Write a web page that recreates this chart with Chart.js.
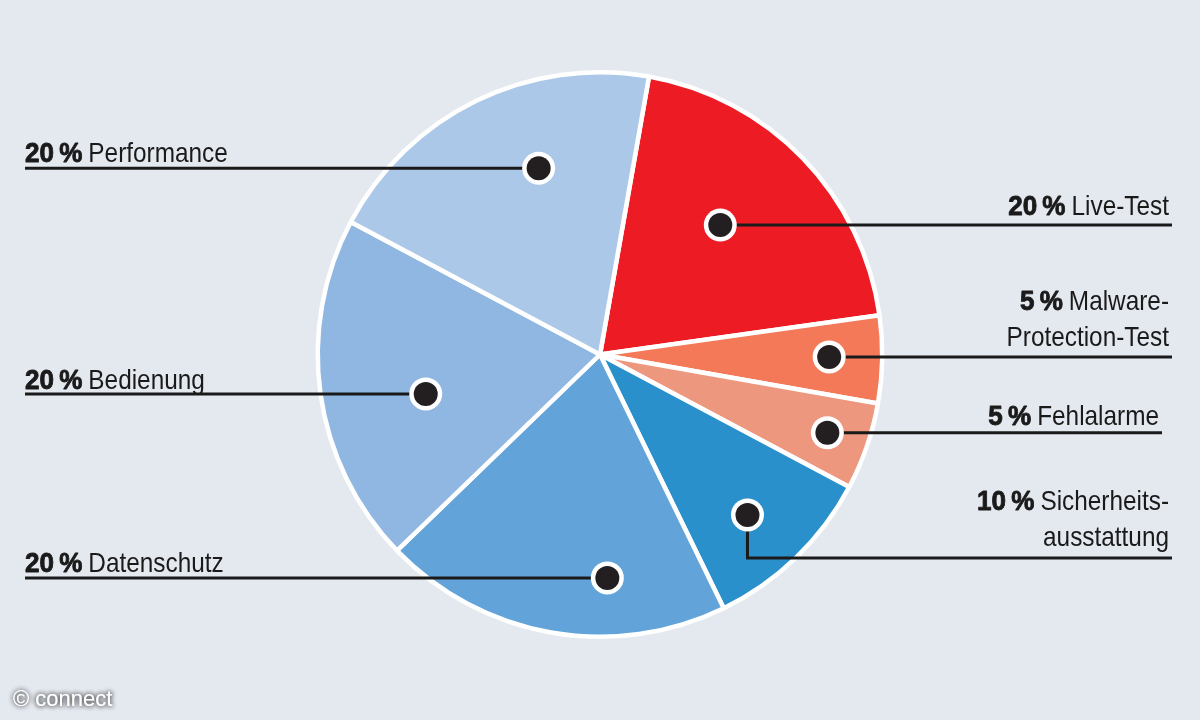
<!DOCTYPE html>
<html>
<head>
<meta charset="utf-8">
<script src="https://cdn.jsdelivr.net/npm/chart.js@4.4.1/dist/chart.umd.min.js"></script>
<style>
  html, body { margin: 0; padding: 0; background: #e4e9f0; }
  #wrap { width: 1200px; height: 720px; position: relative; }
</style>
</head>
<body>
<div id="wrap"><canvas id="c" width="1200" height="720"></canvas></div>
<script>
// Weighting of the test categories (percent), clockwise from the red slice
const categories = ['Live-Test', 'Malware-Protection-Test', 'Fehlalarme', 'Sicherheitsausstattung', 'Datenschutz', 'Bedienung', 'Performance'];
const shares = [20, 5, 5, 10, 20, 20, 20];
// Callout text as it is broken over lines
const labelLines = [
  ['Live-Test'],
  ['Malware-', 'Protection-Test'],
  ['Fehlalarme'],
  ['Sicherheits-', 'ausstattung'],
  ['Datenschutz'],
  ['Bedienung'],
  ['Performance']
];
const sliceColors = ['#ed1c24', '#f47959', '#ee977f', '#2a90cc', '#62a3d9', '#8fb7e1', '#abc8e8'];

// Callout geometry: where the marker sits inside its slice (t = share of the slice angle,
// rf = share of the radius), which side the label is on and how the leader line runs
const callouts = [
  { side: 'right', t: 0.457, rf: 0.626, gap: 10, endX: 1172 },
  { side: 'right', t: 0.478, rf: 0.812, gap: 11, endX: 1172 },
  { side: 'right', t: 0.500, rf: 0.852, gap: 8,  endX: 1162 },
  { side: 'right', t: 0.539, rf: 0.772, gap: 12, endX: 1172, dropTo: 558 },
  { side: 'left',  t: 0.335, rf: 0.792, gap: 6,  endX: 25 },
  { side: 'left',  t: 0.434, rf: 0.633, gap: 5,  endX: 25 },
  { side: 'left',  t: 0.608, rf: 0.695, gap: 6,  endX: 25 }
];

const FONT_FAMILY = '"Liberation Sans", Arial, Helvetica, sans-serif';
const BOLD_FONT = 'bold 28px ' + FONT_FAMILY;
const REG_FONT = '28px ' + FONT_FAMILY;
const BOLD_SX = 0.93;   // condensed look: horizontal squeeze of the bold figures
const REG_SX = 0.87;    // horizontal squeeze of the regular text
const TEXT_COLOR = '#1b1a1a';
const LINE_HEIGHT = 36;

function textWidth(ctx, text, font, sx) {
  ctx.font = font;
  return ctx.measureText(text).width * sx;
}

// draws text left-anchored at x, squeezed horizontally by sx; heavy adds a thin outline
function drawSqueezed(ctx, text, x, y, font, sx, heavy) {
  ctx.save();
  ctx.font = font;
  ctx.textAlign = 'left';
  ctx.translate(x, y);
  ctx.scale(sx, 1);
  ctx.fillText(text, 0, 0);
  if (heavy) {
    ctx.strokeStyle = ctx.fillStyle;
    ctx.lineWidth = 0.9;
    ctx.lineJoin = 'round';
    ctx.strokeText(text, 0, 0);
  }
  ctx.restore();
}

const calloutPlugin = {
  id: 'callouts',
  afterDatasetsDraw(chart) {
    const ctx = chart.ctx;
    const meta = chart.getDatasetMeta(0);
    ctx.save();
    meta.data.forEach((arc, i) => {
      const p = arc.getProps(['x', 'y', 'startAngle', 'endAngle', 'outerRadius'], true);
      const c = callouts[i];
      const a = p.startAngle + c.t * (p.endAngle - p.startAngle);
      const px = p.x + Math.cos(a) * c.rf * p.outerRadius;
      const py = p.y + Math.sin(a) * c.rf * p.outerRadius;
      const lineY = c.dropTo !== undefined ? c.dropTo : py;

      // leader line
      ctx.strokeStyle = TEXT_COLOR;
      ctx.lineWidth = 3;
      ctx.lineJoin = 'miter';
      ctx.beginPath();
      ctx.moveTo(px, py);
      if (c.dropTo !== undefined) ctx.lineTo(px, lineY);
      ctx.lineTo(c.endX, lineY);
      ctx.stroke();

      // marker
      ctx.beginPath();
      ctx.arc(px, py, 16.5, 0, Math.PI * 2);
      ctx.fillStyle = '#ffffff';
      ctx.fill();
      ctx.beginPath();
      ctx.arc(px, py, 12, 0, Math.PI * 2);
      ctx.fillStyle = '#231f20';
      ctx.fill();

      // label text
      const lines = labelLines[i];
      const pct = shares[i] + '\u2009%';
      ctx.fillStyle = TEXT_COLOR;
      ctx.textBaseline = 'alphabetic';
      const lastBase = lineY - c.gap;
      const firstBase = lastBase - (lines.length - 1) * LINE_HEIGHT;
      const pctW = textWidth(ctx, pct, BOLD_FONT, BOLD_SX);
      const spaceW = 6;
      if (c.side === 'left') {
        const x0 = c.endX;
        drawSqueezed(ctx, pct, x0, firstBase, BOLD_FONT, BOLD_SX, true);
        drawSqueezed(ctx, lines[0], x0 + pctW + spaceW, firstBase, REG_FONT, REG_SX);
        for (let k = 1; k < lines.length; k++) {
          drawSqueezed(ctx, lines[k], x0, firstBase + k * LINE_HEIGHT, REG_FONT, REG_SX);
        }
      } else {
        const xr = c.endX - 3;
        const firstW = textWidth(ctx, lines[0], REG_FONT, REG_SX);
        drawSqueezed(ctx, pct, xr - firstW - spaceW - pctW, firstBase, BOLD_FONT, BOLD_SX, true);
        drawSqueezed(ctx, lines[0], xr - firstW, firstBase, REG_FONT, REG_SX);
        for (let k = 1; k < lines.length; k++) {
          const w = textWidth(ctx, lines[k], REG_FONT, REG_SX);
          drawSqueezed(ctx, lines[k], xr - w, firstBase + k * LINE_HEIGHT, REG_FONT, REG_SX);
        }
      }
    });

    // copyright mark
    ctx.textAlign = 'left';
    ctx.font = '22px "Liberation Sans", Arial, sans-serif';
    ctx.fillStyle = '#ffffff';
    ctx.shadowColor = 'rgba(50,50,50,0.85)';
    ctx.shadowBlur = 5;
    for (let k = 0; k < 2; k++) ctx.fillText('\u00a9 connect', 13, 706);
    ctx.restore();
  }
};

new Chart(document.getElementById('c'), {
  type: 'pie',
  data: {
    labels: categories,
    datasets: [{
      data: shares,
      backgroundColor: sliceColors,
      borderColor: '#ffffff',
      borderWidth: 4.5,
      hoverOffset: 0
    }]
  },
  options: {
    responsive: false,
    animation: false,
    devicePixelRatio: 1,
    rotation: 10,
    layout: { padding: { top: 70, bottom: 81, left: 0, right: 0 } },
    plugins: {
      legend: { display: false },
      tooltip: { enabled: false }
    },
    events: []
  },
  plugins: [calloutPlugin]
});
</script>
</body>
</html>
